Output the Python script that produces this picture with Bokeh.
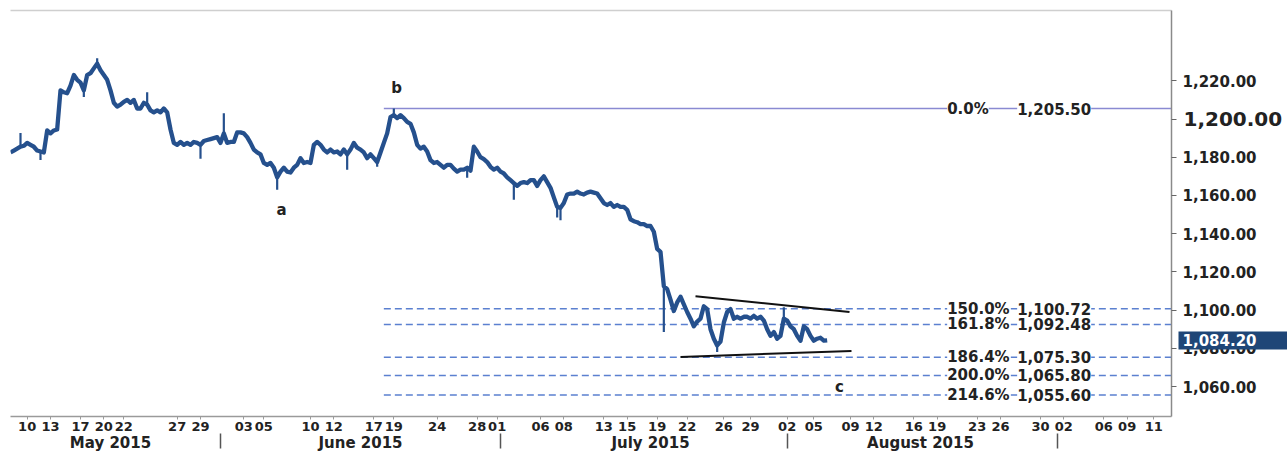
from bokeh.plotting import figure
from bokeh.models import Range1d, LinearAxis, FixedTicker, ColumnDataSource, Label, NumeralTickFormatter
from bokeh.core.properties import value
from bokeh.embed import file_html
from bokeh.resources import INLINE

# ---- price series (one value per bar) ----
close = [
    1182.5, 1183.5, 1184.5, 1185.5, 1186, 1187.5, 1186.5, 1185.5, 1183.5, 1183, 1182.5,
    1194, 1192.5, 1194, 1194.5, 1215, 1214, 1213.5, 1217.5, 1223, 1220.5, 1219, 1215,
    1223, 1224, 1226.5, 1229, 1225.5, 1223, 1220.5, 1215, 1208.5, 1206.5, 1207.5, 1209,
    1210, 1208.5, 1210, 1205.5, 1205.5, 1208.5, 1207.5, 1204.5, 1203.5, 1204.5, 1203.5,
    1205.5, 1203.5, 1194.5, 1187.5, 1186.5, 1188, 1186.5, 1187.5, 1186.5, 1188, 1187.5,
    1186.5, 1188.5, 1189, 1189.5, 1190, 1190.5, 1187.5, 1192.5, 1187.5, 1188, 1188, 1193,
    1193, 1192.5, 1190.5, 1187.5, 1184, 1182.5, 1181.5, 1177, 1176, 1177, 1174.5, 1169.5,
    1172.5, 1174.5, 1172.5, 1172, 1174.5, 1176, 1179.5, 1177, 1177.5, 1177, 1186.5, 1188,
    1186.5, 1184, 1182.5, 1184, 1182.5, 1183, 1181.5, 1184, 1181.5, 1184, 1187.5, 1185,
    1184, 1182.5, 1179.5, 1181.5, 1179.5, 1177.5, 1182.5, 1187.5, 1192.5, 1201, 1202,
    1200.5, 1202, 1200.5, 1198.5, 1197.5, 1193, 1186.5, 1184.5, 1185.5, 1183, 1178.5,
    1177, 1177.5, 1176, 1174.5, 1176, 1176, 1174, 1172.5, 1173.5, 1173.5, 1174.5, 1173,
    1185.5, 1183, 1180, 1179, 1177.5, 1175, 1173.5, 1174.5, 1172.5, 1171.5, 1169.5, 1168,
    1166.5, 1165, 1166.5, 1167, 1166.5, 1168, 1168, 1165, 1168, 1170, 1167, 1164, 1159,
    1154, 1153.5, 1156, 1160.5, 1161, 1161, 1162, 1161, 1160.5, 1161.5, 1162, 1161.5,
    1161, 1158.5, 1156, 1155, 1156, 1154, 1155, 1154, 1154, 1152.5, 1147.5, 1146.5, 1146,
    1145, 1145, 1144, 1144, 1141, 1132, 1130.5, 1112.5, 1111, 1105.5, 1099.5, 1104, 1107,
    1103, 1099, 1095.5, 1091.5, 1094, 1095.5, 1102, 1100.5, 1090, 1085, 1081.5, 1083.5,
    1093.5, 1099, 1100.5, 1095.5, 1096.5, 1095.5, 1096.5, 1096.5, 1095.5, 1097, 1095.5,
    1096.5, 1094.5, 1090, 1086.5, 1088.5, 1085, 1086.5, 1095.5, 1094.5, 1091.5, 1090,
    1086.5, 1084, 1091.5, 1090, 1086.5, 1084, 1085, 1085.5, 1084, 1084.2,
]
# wick extremes (bar index, extreme price)
wick_bars = [3, 9, 22, 26, 41, 57, 64, 80, 101, 110, 115, 137, 151, 164, 165, 196, 212, 232]
wick_values = [1192.7, 1178.6, 1211.5, 1231.8, 1214.0, 1179.2, 1203.0, 1163.0, 1173.4, 1175.0,
               1205.5, 1169.3, 1157.8, 1148.4, 1147.0, 1088.5, 1078.0, 1101.5]

# ---- axes ----
day_tick_pos = [5, 12, 21, 28, 34, 50, 57, 70, 76, 90, 97, 109, 115, 128, 140, 146, 159,
                166, 178, 185, 194, 203, 214, 222, 233, 241, 252, 259, 271, 278, 290, 297,
                309, 316, 328, 335, 343]
day_tick_labels = ["10", "13", "17", "20", "22", "27", "29", "03", "05", "10", "12", "17",
                   "19", "24", "28", "01", "06", "08", "13", "15", "19", "22", "26", "29",
                   "02", "05", "09", "12", "16", "19", "23", "26", "30", "02", "06", "09", "11"]
month_names = ["May 2015", "June 2015", "July 2015", "August 2015"]
month_centers = [30, 105, 192, 273]
month_separators = [63, 147, 233, 314]
price_ticks = [1060, 1080, 1100, 1120, 1140, 1160, 1180, 1200, 1220]
big_tick = 1200

# ---- Fibonacci levels ----
fib_pct = ["0.0%", "150.0%", "161.8%", "186.4%", "200.0%", "214.6%"]
fib_levels = [1205.50, 1100.72, 1092.48, 1075.30, 1065.80, 1055.60]
fib_start_bar = 112

# ---- triangle lines ----
tri_x0 = [205.5, 201.0]
tri_y0 = [1107.3, 1075.5]
tri_x1 = [251.7, 252.3]
tri_y1 = [1099.0, 1078.6]

# ---- wave labels ----
wave_names = ["a", "b", "c"]
wave_bars = [81.3, 115.8, 248.7]
wave_values = [1152.6, 1216.1, 1060.0]

last_price = 1084.20

X_END = 348.3
Y_START, Y_END = 1044.3, 1256.8
FONT = "DejaVu Sans"
TXT = "#222222"
PRICE_COLOR = "#25508d"
TAG_COLOR = "#1f4677"

p = figure(width=1287, height=454, x_range=Range1d(0, X_END), y_range=Range1d(Y_START, Y_END),
           output_backend="svg", toolbar_location=None, x_axis_type=None, y_axis_type=None,
           min_border_left=10, min_border_top=10, min_border_right=116, min_border_bottom=36)
p.outline_line_color = None
p.background_fill_color = "white"
p.border_fill_color = "white"

# top border line (an empty axis above)
top = LinearAxis(ticker=FixedTicker(ticks=[], minor_ticks=[]))
top.axis_line_color = "#cfcfcf"
top.axis_line_width = 1.5
top.major_tick_line_color = None
top.minor_tick_line_color = None
top.major_tick_in = 0
top.major_tick_out = 0
top.minor_tick_in = 0
top.minor_tick_out = 0
top.major_label_standoff = 0
top.major_label_text_font_size = "0px"
p.add_layout(top, "above")

# day axis
xa = LinearAxis(ticker=FixedTicker(ticks=day_tick_pos, minor_ticks=[]),
                major_label_overrides={t: l for t, l in zip(day_tick_pos, day_tick_labels)})
xa.axis_line_color = "#9a9a9a"
xa.axis_line_width = 1.5
xa.major_tick_line_color = "#9a9a9a"
xa.major_tick_in = 0
xa.major_tick_out = 3
xa.major_label_standoff = 2
xa.major_label_text_font = FONT
xa.major_label_text_font_style = "bold"
xa.major_label_text_font_size = "13px"
xa.major_label_text_color = TXT
p.add_layout(xa, "below")

# month axis (separators drawn as its minor ticks)
ma = LinearAxis(ticker=FixedTicker(ticks=month_centers, minor_ticks=month_separators),
                major_label_overrides={t: l for t, l in zip(month_centers, month_names)})
ma.axis_line_color = None
ma.major_tick_line_color = None
ma.major_tick_in = 0
ma.major_tick_out = 0
ma.minor_tick_line_color = "#555555"
ma.minor_tick_line_width = 1.5
ma.minor_tick_in = 0
ma.minor_tick_out = 15
ma.major_label_standoff = -15
ma.major_label_text_font = FONT
ma.major_label_text_font_style = "bold"
ma.major_label_text_font_size = "15px"
ma.major_label_text_color = TXT
p.add_layout(ma, "below")

# right price axis
ya = LinearAxis(ticker=FixedTicker(ticks=price_ticks, minor_ticks=[]),
                formatter=NumeralTickFormatter(format="0,0.00"),
                major_label_overrides={big_tick: ""})
ya.axis_line_color = "#8a8a8a"
ya.axis_line_width = 1.5
ya.major_tick_line_color = "#666666"
ya.major_tick_in = 0
ya.major_tick_out = 5
ya.major_label_standoff = 6
ya.major_label_text_font = FONT
ya.major_label_text_font_style = "bold"
ya.major_label_text_font_size = "15px"
ya.major_label_text_color = TXT
p.add_layout(ya, "right")

# larger label for the round level 1,200.00 (second right axis, pulled back next to the first)
ba = LinearAxis(ticker=FixedTicker(ticks=[big_tick], minor_ticks=[]),
                formatter=NumeralTickFormatter(format="0,0.00"))
ba.axis_line_color = None
ba.major_tick_line_color = None
ba.major_tick_in = 0
ba.major_tick_out = 0
ba.major_label_standoff = -76
ba.major_label_text_font = FONT
ba.major_label_text_font_style = "bold"
ba.major_label_text_font_size = "20px"
ba.major_label_text_color = TXT
p.add_layout(ba, "right")

# last-price tag (third right axis: a thick tick forms the box)
ta = LinearAxis(ticker=FixedTicker(ticks=[last_price], minor_ticks=[]),
                formatter=NumeralTickFormatter(format="0,0.00"))
ta.axis_line_color = None
ta.major_tick_line_color = TAG_COLOR
ta.major_tick_line_width = 18
ta.major_tick_line_cap = "butt"
ta.major_tick_in = 107
ta.major_tick_out = 20
ta.major_label_standoff = -123
ta.major_label_text_font = FONT
ta.major_label_text_font_style = "bold"
ta.major_label_text_font_size = "15px"
ta.major_label_text_color = "white"
p.add_layout(ta, "right")

# Fibonacci lines
p.segment(x0=[fib_start_bar], y0=fib_levels[:1], x1=[X_END], y1=fib_levels[:1],
          line_color="#8a8ad2", line_width=1.6)
n_d = len(fib_levels) - 1
p.segment(x0=[fib_start_bar] * n_d, y0=fib_levels[1:], x1=[X_END] * n_d, y1=fib_levels[1:],
          line_color="#5b80d0", line_width=1.5, line_dash="7 4")

for pct, lev in zip(fib_pct, fib_levels):
    p.add_layout(Label(x=281, y=lev, text=pct, text_font=FONT, text_font_style="bold",
                       text_font_size="15px", text_color=TXT, text_baseline="middle",
                       text_align="left", background_fill_color="white"))
    p.add_layout(Label(x=302, y=lev, text=f"{lev:,.2f}", text_font=FONT, text_font_style="bold",
                       text_font_size="15px", text_color=TXT, text_baseline="middle",
                       text_align="left", background_fill_color="white"))

# triangle
p.segment(x0=tri_x0, y0=tri_y0, x1=tri_x1, y1=tri_y1, line_color="#111111", line_width=2)

# price
bars = list(range(len(close)))
p.segment(x0=wick_bars, y0=[close[b] for b in wick_bars], x1=wick_bars, y1=wick_values,
          line_color=PRICE_COLOR, line_width=2.2)
p.line(bars, close, line_color=PRICE_COLOR, line_width=4.3, line_join="round")

# wave labels
src = ColumnDataSource(dict(x=wave_bars, y=wave_values, t=wave_names))
p.text(x="x", y="y", text="t", source=src, text_font=value(FONT), text_font_style="bold",
       text_font_size="15px", text_color=TXT, text_align="center", text_baseline="middle")

open("out.html", "w").write(file_html(p, INLINE))
